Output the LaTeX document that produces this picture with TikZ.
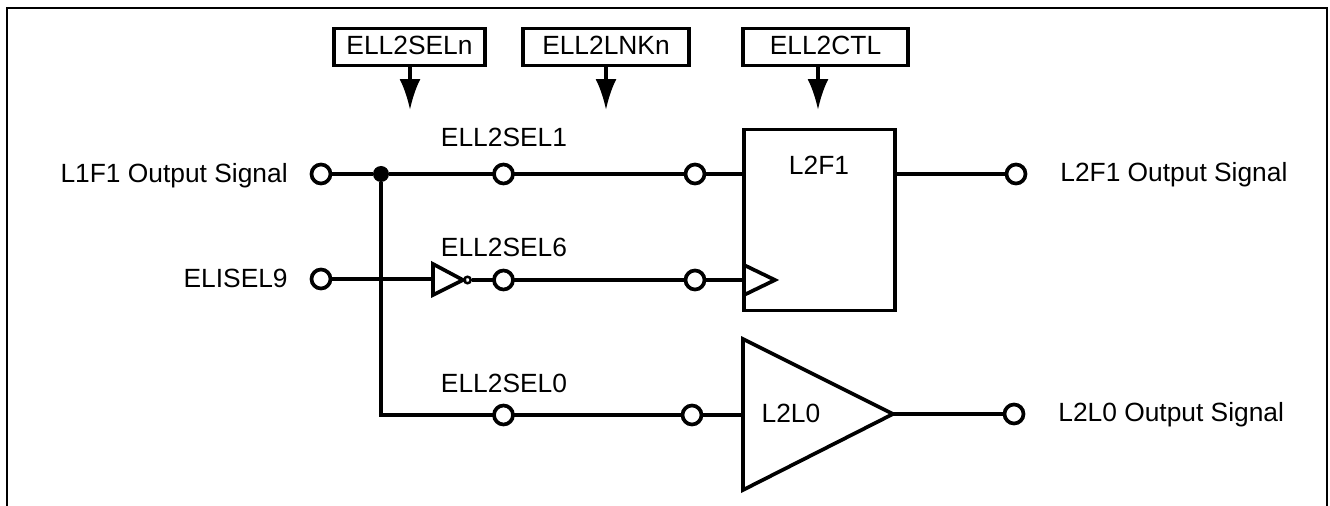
\documentclass[tikz,border=0pt]{standalone}
\usepackage{fontspec}
\setmainfont{Liberation Sans}
\usetikzlibrary{arrows.meta}
\tikzset{
	wire/.style={line width=2.1pt},
	thin wire/.style={line width=1.9pt},
	term/.style={circle, draw, line width=2.1pt, fill=white, inner sep=0pt, minimum size=0.38cm, outer sep=0pt},
	regbox/.style={draw, line width=2.1pt, inner sep=0pt, outer sep=0pt, text depth=0.06cm, font=\fontsize{15}{18}\selectfont},
	lbl/.style={inner sep=0pt, anchor=base, font=\fontsize{15}{18}\selectfont},
	feed/.style={line width=2.1pt, -{Latex[length=0.62cm, width=0.42cm]}}
}
\begin{document}
\begin{tikzpicture}[x=0.02cm, y=-0.02cm]
	\useasboundingbox (0,0) rectangle (1330,506);
	% outer frame
	\coordinate (fl) at (7,506);
	\coordinate (fr) at (1327,506);
	\draw[line width=1.5pt] (fl) |- (1327,8) -- (fr);

	% registers on top
	\node[regbox, minimum width=3.02cm, minimum height=0.74cm] (sel) at (409.5,47) {ELL2SELn};
	\node[regbox, minimum width=3.32cm, minimum height=0.74cm] (lnk) at (606,47) {ELL2LNKn};
	\node[regbox, minimum width=3.30cm, minimum height=0.74cm] (ctl) at (825.5,47) {ELL2CTL};
	\foreach \r/\x in {sel/410, lnk/606, ctl/818}
	{
		\coordinate (\r end) at (\x,110);
		\draw[feed] (\r end |- \r.south) -- (\r end);
	}

	% flip-flop and latch
	\node[regbox, minimum width=3.02cm, minimum height=3.62cm] (ff) at (819.5,220) {};
	\node[lbl] (fflabel) at (819,175) {L2F1};
	\coordinate (cka) at (744,265);
	\coordinate (ckb) at (775,280);
	\coordinate (ckc) at (744,295);
	\draw[wire] (cka) -- (ckb) -- (ckc);
	\coordinate (lta) at (743,339);
	\coordinate (ltb) at (893,414);
	\coordinate (ltc) at (743,490);
	\draw[wire, line join=miter] (lta) -- (ltb) -- (ltc) -- cycle;
	\node[lbl] (ltlabel) at (791,423) {L2L0};

	% inverter
	\coordinate (inva) at (433,264);
	\coordinate (invb) at (463,280);
	\coordinate (invc) at (433,295);
	\draw[wire] (inva) -- (invb) -- (invc) -- cycle;
	\node[circle, draw, line width=1.4pt, inner sep=0pt, minimum size=0.13cm] (bub) at (467.5,280) {};

	% terminals
	\node[term] (in1) at (321,174) {};
	\node[term] (in2) at (321,279) {};
	\foreach \n/\x/\y in {a1/503.5/174, b1/695/174, a2/503.5/280, b2/695/280, a3/503.5/415, b3/692/415}
	{
		\node[term] (\n) at (\x,\y) {};
	}
	\node[term] (out1) at (1016,174) {};
	\node[term] (out2) at (1014,414) {};

	% wires
	\node[circle, fill, inner sep=0pt, minimum size=0.32cm] (jun) at (381,174) {};
	\draw[wire] (in1) -- (jun) -- (a1) -- (b1) -- (b1 -| ff.west);
	\draw[thin wire] (in2) -- (in2 -| inva);
	\draw[wire] (bub) -- (a2) -- (b2) -- (b2 -| ff.west);
	\draw[wire] (jun) |- (a3);
	\draw[wire] (a3) -- (b3) -- (b3 -| lta);
	\draw[wire] (out1 -| ff.east) -- (out1);
	\draw[wire] (ltb) -- (out2);

	% labels
	\node[lbl, anchor=base east] (in1text) at (288,182.5) {L1F1 Output Signal};
	\node[lbl, anchor=base east] (in2text) at (288,287.5) {ELISEL9};
	\node[lbl, anchor=base west] (out1text) at (1060,182) {L2F1 Output Signal};
	\node[lbl, anchor=base west] (out2text) at (1058,422) {L2L0 Output Signal};
	\node[lbl] (sel1) at (504,147) {ELL2SEL1};
	\node[lbl] (sel6) at (504,257) {ELL2SEL6};
	\node[lbl] (sel0) at (504,393) {ELL2SEL0};
\end{tikzpicture}
\end{document}
